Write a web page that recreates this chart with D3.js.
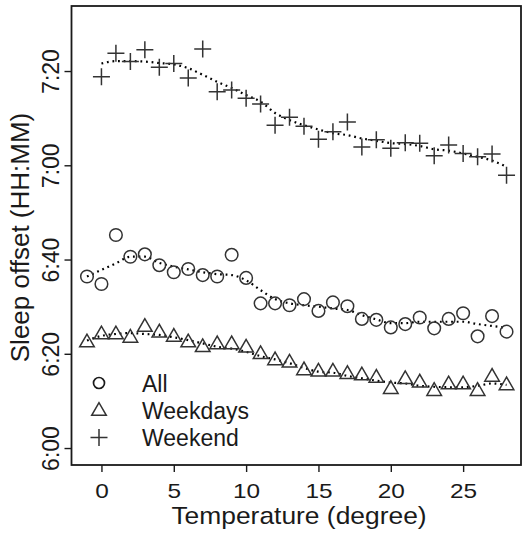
<!DOCTYPE html>
<html>
<head>
<meta charset="utf-8">
<script src="https://cdn.jsdelivr.net/npm/d3@7"></script>
<style>
  html, body { margin: 0; padding: 0; background: #fff; }
  svg { display: block; font-family: "Liberation Sans", Arial, Helvetica, sans-serif; }
</style>
</head>
<body>
<svg id="chart" width="523" height="533"></svg>
<script>
// ---- data (minutes after 6:00) ----
const temps = d3.range(-1, 29);          // -1 .. 28
const weekendTemps = d3.range(0, 29);    // 0 .. 28

const allValues = [36.4, 34.8, 45.2, 40.6, 41.1, 38.8, 37.3, 38.0, 36.7, 36.4,
                   41.0, 36.1, 30.7, 30.7, 30.3, 31.6, 29.1, 30.9, 30.1, 27.4,
                   27.2, 25.6, 26.3, 27.7, 25.4, 27.4, 28.6, 23.7, 28.0, 24.7];
const allSmooth = [36.4, 37.8, 39.2, 40.6, 40.6, 39.3, 38.5, 37.9, 37.3, 36.9,
                   36.7, 35.6, 33.5, 31.6, 30.7, 30.3, 30.0, 29.6, 29.3, 28.2,
                   27.3, 26.5, 26.5, 26.8, 26.8, 26.8, 26.8, 26.3, 25.9, 25.5];

const weekdayValues = [22.6, 24.3, 24.3, 23.6, 25.9, 24.7, 23.8, 22.6, 21.6, 22.2,
                       22.2, 21.5, 20.1, 18.8, 18.3, 16.7, 16.4, 16.4, 15.9, 15.6,
                       15.1, 12.7, 14.8, 14.1, 12.3, 13.7, 13.7, 12.3, 15.3, 13.5];
const weekdaySmooth = [22.8, 23.8, 24.2, 24.4, 24.2, 24.0, 23.5, 22.9, 22.2, 21.5,
                       21.1, 20.4, 19.5, 18.8, 18.0, 17.0, 16.2, 16.0, 15.3, 14.8,
                       14.3, 13.9, 13.7, 13.2, 13.0, 12.9, 12.9, 13.2, 13.7, 13.4];

const weekendValues = [78.8, 83.8, 82.0, 84.5, 80.8, 81.6, 78.5, 84.7, 75.6, 76.0,
                       74.2, 73.0, 68.5, 70.2, 68.3, 65.5, 67.1, 69.2, 63.9, 65.4,
                       63.6, 64.8, 64.7, 62.0, 64.3, 62.5, 61.8, 62.4, 57.9];
const weekendSmooth = [81.6, 82.1, 82.1, 82.0, 81.7, 81.4, 80.6, 79.2, 77.7, 76.4,
                       74.9, 73.5, 71.1, 69.6, 68.5, 67.6, 66.8, 66.4, 65.7, 65.2,
                       64.7, 64.5, 64.1, 63.4, 63.1, 62.5, 61.8, 61.0, 59.7];

const xTicks = [0, 5, 10, 15, 20, 25];
const yTicks = [0, 20, 40, 60, 80];
const yTickLabels = ["6:00", "6:20", "6:40", "7:00", "7:20"];
const legendLabels = ["All", "Weekdays", "Weekend"];

// ---- layout ----
const svg = d3.select("#chart");
const pLeft = 71.5, pRight = 521, pTop = 6, pBottom = 465;
const x = d3.scaleLinear().domain([-2.07, 29.0]).range([pLeft, pRight]);
const y = d3.scaleLinear().domain([-3.6, 93.8]).range([pBottom, pTop]);
const ink = "#1a1a1a";
const markInk = "#333";

// frame
svg.append("rect")
  .attr("x", pLeft).attr("y", pTop)
  .attr("width", pRight - pLeft).attr("height", pBottom - pTop)
  .attr("fill", "none").attr("stroke", ink).attr("stroke-width", 1.8);

// axes
const xAxis = d3.axisBottom(x).tickValues(xTicks).tickSize(7).tickPadding(0)
  .tickFormat(d3.format("d"));
const gx = svg.append("g").attr("transform", `translate(0,${pBottom})`).call(xAxis);
gx.select(".domain").remove();
gx.selectAll("line").attr("stroke", ink).attr("stroke-width", 1.4);
gx.selectAll("text").attr("fill", ink).style("font-size", "20px")
  .attr("font-family", "Liberation Sans, Arial, sans-serif")
  .attr("y", 0).attr("dy", null)
  .attr("transform", "translate(0,32.5) scale(1.22,1)");

const yAxis = d3.axisLeft(y).tickValues(yTicks).tickSize(7)
  .tickFormat((d, i) => yTickLabels[i]);
const gy = svg.append("g").attr("transform", `translate(${pLeft},0)`).call(yAxis);
gy.select(".domain").remove();
gy.selectAll("line").attr("stroke", ink).attr("stroke-width", 1.4);
gy.selectAll("text")
  .attr("fill", ink).style("font-size", "23px")
  .attr("font-family", "Liberation Sans, Arial, sans-serif")
  .attr("text-anchor", "middle")
  .attr("dy", null)
  .attr("x", 0).attr("y", 0)
  .attr("transform", "translate(-12.5,0) rotate(-90)");

// axis titles
svg.append("text")
  .attr("transform", "translate(299,523.5) scale(1.1,1)")
  .attr("text-anchor", "middle").attr("fill", ink)
  .style("font-size", "24px")
  .text("Temperature (degree)");
svg.append("text")
  .attr("transform", `translate(29,237.5) rotate(-90)`)
  .attr("text-anchor", "middle").attr("fill", ink)
  .style("font-size", "26px")
  .text("Sleep offset (HH:MM)");

// smooth dotted lines
const line = d3.line().curve(d3.curveMonotoneX);
function dotted(xs, ys) {
  svg.append("path")
    .attr("d", line(xs.map((t, i) => [x(t), y(ys[i])])))
    .attr("fill", "none").attr("stroke", "#000")
    .attr("stroke-width", 2.2).attr("stroke-dasharray", "1.8,3.8")
    .attr("stroke-linecap", "butt");
}
dotted(temps, allSmooth);
dotted(temps, weekdaySmooth);
dotted(weekendTemps, weekendSmooth);

// markers
const gMarks = svg.append("g");
function circleMark(g, cx, cy) {
  g.append("circle").attr("cx", cx).attr("cy", cy).attr("r", 6.3)
    .attr("fill", "none").attr("stroke", markInk).attr("stroke-width", 1.5);
}
function triMark(g, cx, cy) {
  const s = 7.3;
  const h = s * Math.sqrt(3);
  const pts = [[cx, cy - h * 0.58], [cx - s, cy + h * 0.42], [cx + s, cy + h * 0.42]];
  g.append("path").attr("d", "M" + pts.map(p => p.join(",")).join("L") + "Z")
    .attr("fill", "none").attr("stroke", markInk).attr("stroke-width", 1.5);
}
function plusMark(g, cx, cy) {
  const a = 8.5;
  g.append("path").attr("d", `M${cx - a},${cy}H${cx + a}M${cx},${cy - a}V${cy + a}`)
    .attr("fill", "none").attr("stroke", markInk).attr("stroke-width", 1.5);
}

temps.forEach((t, i) => circleMark(gMarks, x(t), y(allValues[i])));
temps.forEach((t, i) => triMark(gMarks, x(t), y(weekdayValues[i])));
weekendTemps.forEach((t, i) => plusMark(gMarks, x(t), y(weekendValues[i])));

// legend
const legendY = [383, 410, 437.5];
const legend = svg.append("g");
const markers = [circleMark, triMark, plusMark];
legendLabels.forEach((lab, i) => {
  if (i === 0) {
    legend.append("circle").attr("cx", 99).attr("cy", legendY[i]).attr("r", 5.5)
      .attr("fill", "none").attr("stroke", ink).attr("stroke-width", 1.7);
  } else {
    markers[i](legend, 99, legendY[i]);
  }
  legend.append("text").attr("x", 142).attr("y", legendY[i] + 8.5)
    .attr("fill", ink).style("font-size", "23px").text(lab);
});
</script>
</body>
</html>
